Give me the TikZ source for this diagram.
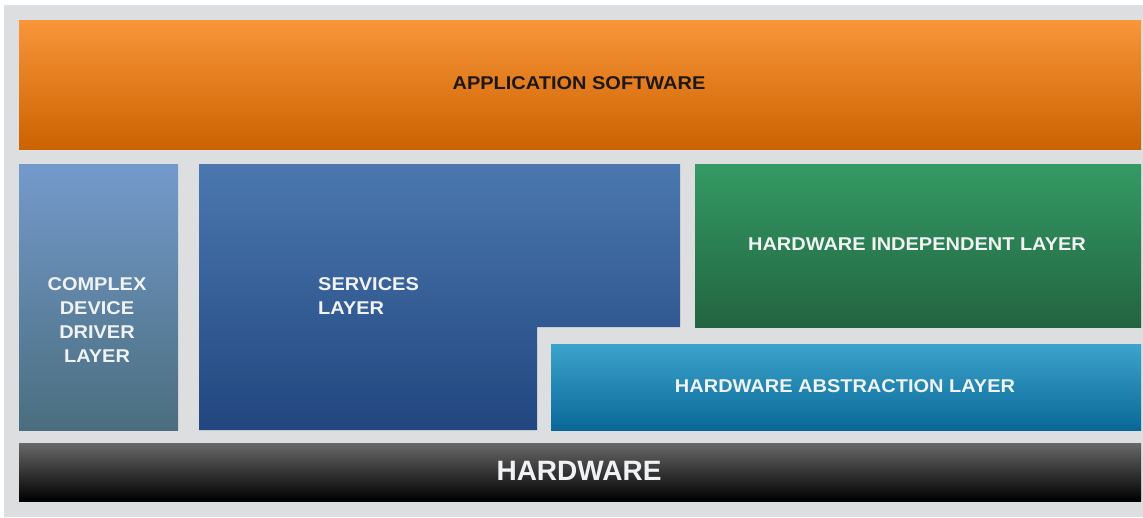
\documentclass[tikz,border=0pt]{standalone}
\usepackage{fontspec}
\setmainfont{Liberation Sans}
\newfontfamily\lblfont[FakeStretch=1.08]{Liberation Sans}
\definecolor{bggray}{RGB}{221,222,223}
\definecolor{orTop}{RGB}{248,150,58}
\definecolor{orBot}{RGB}{204,98,0}
\definecolor{cdTop}{RGB}{116,154,204}
\definecolor{cdBot}{RGB}{74,110,126}
\definecolor{svTop}{RGB}{74,120,174}
\definecolor{svBot}{RGB}{34,70,127}
\definecolor{hiTop}{RGB}{52,154,100}
\definecolor{hiBot}{RGB}{34,100,64}
\definecolor{haTop}{RGB}{60,164,204}
\definecolor{haBot}{RGB}{10,104,152}
\definecolor{hwTop}{RGB}{104,104,104}
\definecolor{hwBot}{RGB}{0,0,0}
\definecolor{lighttext}{RGB}{240,242,244}
\definecolor{darktext}{RGB}{30,24,20}
\begin{document}
\begin{tikzpicture}[x=1pt,y=-1pt,
  box/.style={inner sep=0pt, outer sep=0pt, anchor=north west, draw=none},
  lbl/.style={font=\lblfont\bfseries\fontsize{18.5}{24}\selectfont, text=lighttext, align=center, inner sep=0pt}]
\useasboundingbox (0,0) rectangle (1143,517);
\fill[white] (0,0) rectangle (1143,517);
\fill[bggray] (4,5) rectangle (1143,517);
% application software
\node[box, minimum width=1122pt, minimum height=129pt, top color=orTop, bottom color=orBot] (app) at (19,20) {};
\node[lbl, text=darktext] (applbl) at (579,83) {APPLICATION SOFTWARE};
% complex device driver
\node[box, minimum width=159pt, minimum height=266pt, top color=cdTop, bottom color=cdBot] (cdd) at (19,164) {};
\node[lbl] (cddlbl) at (97,320) {COMPLEX\\DEVICE\\DRIVER\\LAYER};
% services layer (L-shape)
\coordinate (sv) at (199,164);
\shade[top color=svTop, bottom color=svBot] (sv) -- (680,164) -- (680,327) -- (537,327) -- (537,430) -- (199,430) -- cycle;
\node[lbl, align=left, anchor=west] (svlbl) at (318,296) {SERVICES\\LAYER};
% hardware independent layer
\node[box, minimum width=446pt, minimum height=163pt, top color=hiTop, bottom color=hiBot] (hil) at (695,164) {};
\node[lbl] (hillbl) at (917,244) {HARDWARE INDEPENDENT LAYER};
% hardware abstraction layer
\node[box, minimum width=590pt, minimum height=86pt, top color=haTop, bottom color=haBot] (hal) at (551,344) {};
\node[lbl] (hallbl) at (845,386) {HARDWARE ABSTRACTION LAYER};
% hardware
\node[box, minimum width=1122pt, minimum height=58pt, top color=hwTop, bottom color=hwBot] (hw) at (19,443) {};
\node[lbl, font=\bfseries\fontsize{28}{30}\selectfont] (hwlbl) at (579,471) {HARDWARE};
\end{tikzpicture}
\end{document}
